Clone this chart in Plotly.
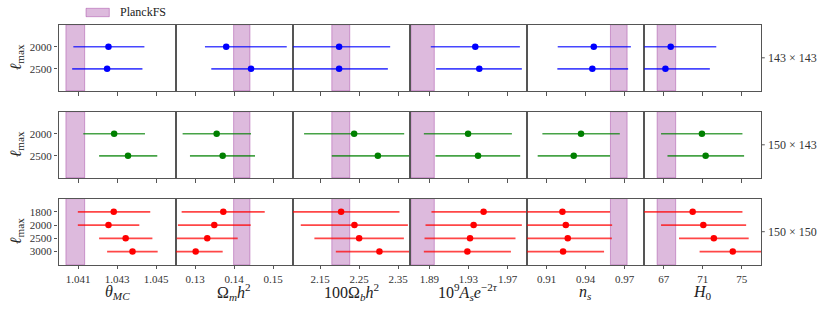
import plotly.graph_objects as go

# ---------------- data ----------------
param_titles = ["<i>θ</i><sub><i>MC</i></sub>", "Ω<sub><i>m</i></sub><i>h</i><sup>2</sup>",
                "100Ω<sub><i>b</i></sub><i>h</i><sup>2</sup>", "10<sup>9</sup><i>A</i><sub><i>s</i></sub><i>e</i><sup>−2<i>τ</i></sup>",
                "<i>n</i><sub><i>s</i></sub>", "<i>H</i><sub>0</sub>"]
tick_vals = [[1.041, 1.043, 1.045], [0.13, 0.14, 0.15], [2.15, 2.25, 2.35],
             [1.89, 1.93, 1.97], [0.91, 0.94, 0.97], [67, 71, 75]]
tick_text = [["1.041", "1.043", "1.045"], ["0.13", "0.14", "0.15"], ["2.15", "2.25", "2.35"],
             ["1.89", "1.93", "1.97"], ["0.91", "0.94", "0.97"], ["67", "71", "75"]]

# PlanckFS bands (low, high) per parameter
band_lo = [1.04038, 0.13985, 2.180, 1.871, 0.9591, 66.33]
band_hi = [1.04134, 0.14403, 2.226, 1.895, 0.9719, 68.23]

# 143 x 143
lmax_143x143 = [2000, 2500]
mean_143x143 = [[1.04256, 1.04249], [0.13795, 0.14431], [2.1987, 2.1987],
                [1.9370, 1.9411], [0.9463, 0.9452], [67.72, 67.18]]
low_143x143 = [[1.04076, 1.04070], [0.13251, 0.13413], [2.070, 2.070],
               [1.8914, 1.8969], [0.9186, 0.9183], [63.05, 62.63]]
high_143x143 = [[1.04440, 1.04430], [0.15346, 0.1560], [2.3295, 2.3236],
                [1.9827, 1.9847], [0.9748, 0.9727], [72.39, 71.73]]

# 150 x 143
lmax_150x143 = [2000, 2500]
mean_150x143 = [[1.04285, 1.04356], [0.13551, 0.13705], [2.2372, 2.2980],
                [1.9296, 1.9398], [0.9365, 0.9309], [70.92, 71.30]]
low_150x143 = [[1.04127, 1.04208], [0.12679, 0.12867], [2.1090, 2.1800],
               [1.8843, 1.8962], [0.9068, 0.9032], [66.73, 67.39]]
high_150x143 = [[1.04443, 1.04506], [0.14431, 0.14533], [2.3654, 2.4160],
                [1.9745, 1.9830], [0.9663, 0.9588], [75.07, 75.24]]

# 150 x 150
lmax_150x150 = [1800, 2000, 2500, 3000]
mean_150x150 = [[1.04283, 1.04256, 1.04344, 1.04379], [0.13721, 0.1349, 0.1331, 0.13013],
                [2.2038, 2.2380, 2.2500, 2.3020], [1.9455, 1.9353, 1.9316, 1.9289],
                [0.9222, 0.9248, 0.9263, 0.9227], [69.97, 71.06, 72.14, 74.08]]
low_150x150 = [[1.04099, 1.04099, 1.04208, 1.04249], [0.12654, 0.12559, 0.12526, 0.1232],
               [2.054, 2.1005, 2.1354, 2.1903], [1.8921, 1.8860, 1.8850, 1.8843],
               [0.8856, 0.8892, 0.8924, 0.8912], [64.87, 66.73, 68.57, 70.68]]
high_150x150 = [[1.04470, 1.04414, 1.04481, 1.04508], [0.14782, 0.14423, 0.1409, 0.13705],
                [2.3533, 2.3749, 2.3646, 2.414], [1.9989, 1.9847, 1.9782, 1.9735],
                [0.9588, 0.9604, 0.9602, 0.9542], [75.07, 75.45, 75.71, 77.48]]

row_labels = ["143 × 143", "150 × 143", "150 × 150"]

# ---------------- layout ----------------
W, H = 830, 312
FONT = "Liberation Serif"


def px(x):
    return x / W


def py(y):
    return 1 - y / H


col_edges = [58.5 + k * 117.13 for k in range(7)]
row_tops = [24.7, 111.7, 198.6]
row_h = 66.2
x_ranges = [[1.040, 1.046], [0.125, 0.155], [2.08, 2.38], [1.87, 1.99], [0.895, 0.985], [65, 77]]
AX_COL = "#555555"

rows = [
    (lmax_143x143, mean_143x143, low_143x143, high_143x143, (0, 0, 255)),
    (lmax_150x143, mean_150x143, low_150x143, high_150x143, (0, 128, 0)),
    (lmax_150x150, mean_150x150, low_150x150, high_150x150, (255, 0, 0)),
]

fig = go.Figure()
shapes = []
annotations = []

for r, (lmax, mean, low, high, rgb) in enumerate(rows):
    n = len(lmax)
    ypos = [n - 1 - k for k in range(n)]
    for c in range(6):
        i = r * 6 + c + 1
        sfx = "" if i == 1 else str(i)
        xref, yref = "x" + sfx, "y" + sfx
        fig.update_layout({
            "xaxis" + sfx: dict(
                domain=[px(col_edges[c]), px(col_edges[c + 1])], range=x_ranges[c], anchor=yref,
                tickvals=tick_vals[c], ticktext=tick_text[c], showticklabels=(r == 2),
                ticks="outside", ticklen=3.5, tickcolor=AX_COL, tickwidth=1,
                showline=True, mirror=True, linecolor=AX_COL, linewidth=1.3,
                showgrid=False, zeroline=False,
                tickfont=dict(family=FONT, size=11, color="#333333")),
            "yaxis" + sfx: dict(
                domain=[py(row_tops[r] + row_h), py(row_tops[r])], range=[-1, n],
                anchor=xref, tickvals=ypos, ticktext=[str(v) for v in lmax],
                showticklabels=(c == 0), ticks="outside" if c == 0 else "", ticklen=3.5,
                tickcolor=AX_COL, showline=True, mirror=True, linecolor=AX_COL, linewidth=1.3,
                showgrid=False, zeroline=False,
                tickfont=dict(family=FONT, size=11, color="#333333")),
        })
        shapes.append(dict(type="rect", xref=xref, yref=yref + " domain", x0=band_lo[c], x1=band_hi[c],
                           y0=0, y1=1, fillcolor="rgba(128,0,128,0.27)",
                           line=dict(color="rgba(150,40,150,0.4)", width=1), layer="below"))
        m = mean[c]
        fig.add_trace(go.Scatter(
            x=m, y=ypos, mode="markers", xaxis=xref, yaxis=yref, showlegend=False,
            marker=dict(color="rgb(%d,%d,%d)" % rgb, size=6.5),
            error_x=dict(type="data", symmetric=False,
                         array=[high[c][k] - m[k] for k in range(n)],
                         arrayminus=[m[k] - low[c][k] for k in range(n)],
                         color="rgba(%d,%d,%d,0.72)" % rgb, thickness=1.7, width=0),
        ))
    yc = row_tops[r] + row_h / 2
    # right row label with tick
    shapes.append(dict(type="line", xref="paper", yref="paper", x0=px(col_edges[6]), x1=px(col_edges[6] + 3.5),
                       y0=py(yc), y1=py(yc), line=dict(color=AX_COL, width=1)))
    annotations.append(dict(text=row_labels[r], xref="paper", yref="paper", x=px(766), y=py(yc),
                            xanchor="left", yanchor="middle", showarrow=False,
                            font=dict(family=FONT, size=12, color="#333333")))
    # y label
    annotations.append(dict(text="<i>ℓ</i><sub>max</sub>", xref="paper", yref="paper", x=px(16.5), y=py(yc),
                            xanchor="center", yanchor="middle", showarrow=False, textangle=-90,
                            font=dict(family=FONT, size=16, color="#222222")))

for c in range(6):
    xc = (col_edges[c] + col_edges[c + 1]) / 2
    annotations.append(dict(text=param_titles[c], xref="paper", yref="paper", x=px(xc), y=py(292),
                            xanchor="center", yanchor="middle", showarrow=False,
                            font=dict(family=FONT, size=16, color="#222222")))

# legend
shapes.append(dict(type="rect", xref="paper", yref="paper", x0=px(86), x1=px(109.3),
                   y0=py(16.7), y1=py(8.3), fillcolor="rgba(128,0,128,0.27)",
                   line=dict(color="rgba(150,40,150,0.4)", width=1)))
annotations.append(dict(text="PlanckFS", xref="paper", yref="paper", x=px(118), y=py(12.5),
                        xanchor="left", yanchor="middle", showarrow=False,
                        font=dict(family=FONT, size=12, color="#222222")))

fig.update_layout(width=W, height=H, margin=dict(l=0, r=0, t=0, b=0),
                  plot_bgcolor="white", paper_bgcolor="white",
                  shapes=shapes, annotations=annotations, showlegend=False)

# remove the default 8px page margin so the figure fills the 830x312 window exactly
fig.write_html("out.html", config={"displayModeBar": False},
               post_script="document.body.style.margin='0px';")
